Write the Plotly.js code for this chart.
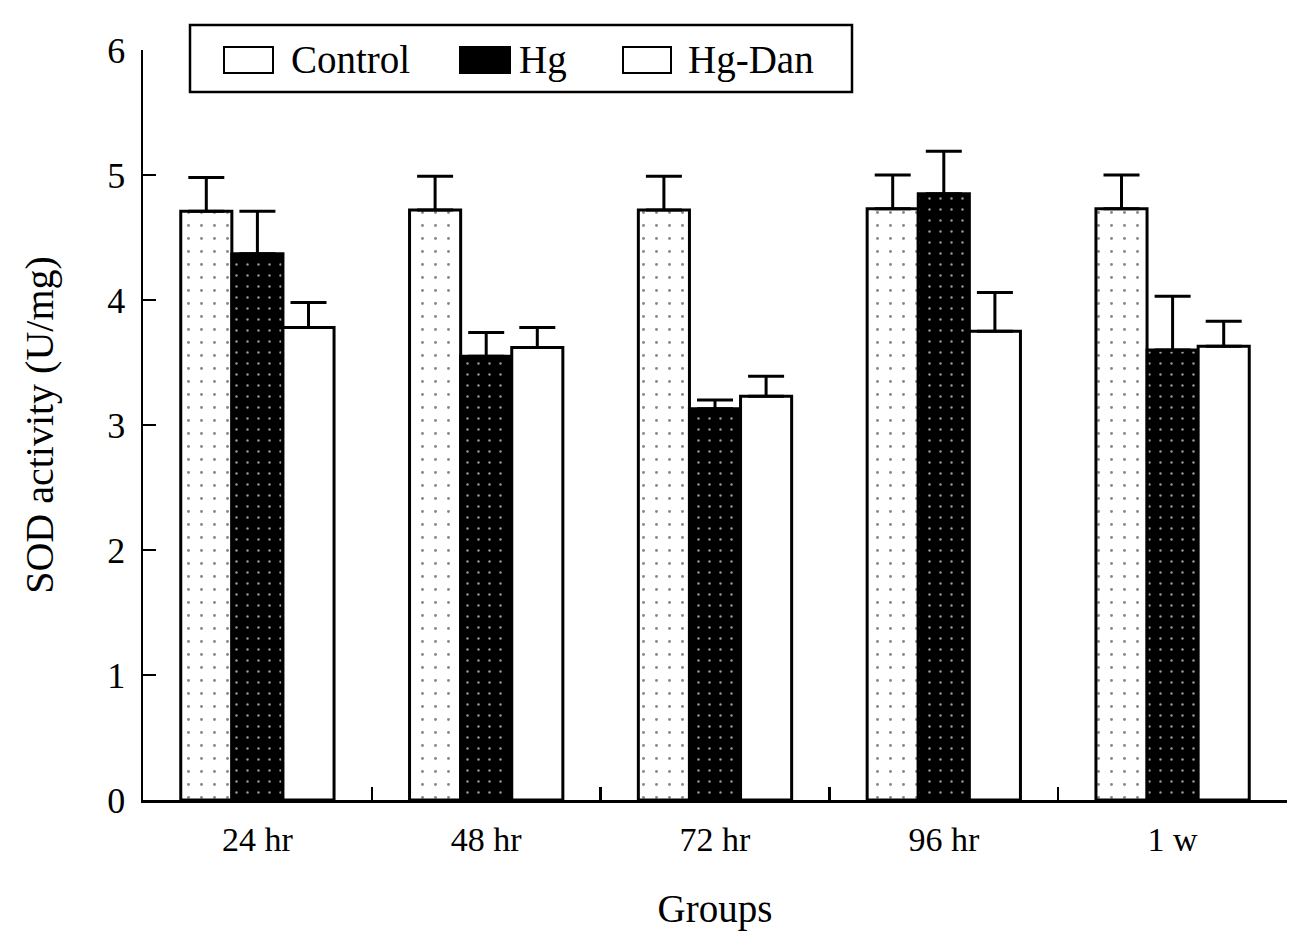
<!DOCTYPE html>
<html>
<head>
<meta charset="utf-8">
<script src="https://cdn.plot.ly/plotly-3.0.1.min.js"></script>
<style>html,body{margin:0;padding:0;background:#fff;}#chart{width:1303px;height:931px;}</style>
</head>
<body>
<div id="chart"></div>
<script>
const groups = ["24 hr", "48 hr", "72 hr", "96 hr", "1 w"];
const seriesNames = ["Control", "Hg", "Hg-Dan"];
const controlVals = [4.71, 4.72, 4.72, 4.73, 4.73];
const controlErr  = [0.27, 0.27, 0.27, 0.27, 0.27];
const hgVals      = [4.37, 3.55, 3.13, 4.85, 3.60];
const hgErr       = [0.34, 0.19, 0.07, 0.34, 0.43];
const hgDanVals   = [3.78, 3.62, 3.23, 3.75, 3.63];
const hgDanErr    = [0.20, 0.16, 0.16, 0.31, 0.20];
const yTicks = [0, 1, 2, 3, 4, 5, 6];

const FONT = "Liberation Serif, Times New Roman, serif";
const zeros = groups.map(() => 0);

function errBar(arr) {
  return {type: "data", symmetric: false, array: arr, arrayminus: zeros,
          color: "#000", thickness: 3, width: 18, visible: true};
}

const traces = [
  {type: "bar", name: seriesNames[0], x: groups, y: controlVals, error_y: errBar(controlErr),
   marker: {color: "#fff", line: {color: "#000", width: 3},
            pattern: {shape: ".", fgcolor: "#888", bgcolor: "#fff", size: 13, solidity: 0.04}}},
  {type: "bar", name: seriesNames[1], x: groups, y: hgVals, error_y: errBar(hgErr),
   marker: {color: "#000", line: {color: "#000", width: 3},
            pattern: {shape: ".", fgcolor: "#999", bgcolor: "#000", size: 11, solidity: 0.04}}},
  {type: "bar", name: seriesNames[2], x: groups, y: hgDanVals, error_y: errBar(hgDanErr),
   marker: {color: "#fff", line: {color: "#000", width: 3}}}
];

// plot area in pixels
const L = 143, R = 16, T = 50, B = 131, W = 1303, H = 931;
const pw = W - L - R, ph = H - T - B;
const px = x => (x - L) / pw;
const py = y => (H - B - y) / ph;

// custom legend (decoration)
const shapes = [
  {type: "rect", xref: "paper", yref: "paper", x0: px(190), x1: px(852), y0: py(92), y1: py(25),
   line: {color: "#000", width: 2.5}, fillcolor: "#fff", layer: "above"},
  {type: "rect", xref: "paper", yref: "paper", x0: px(224), x1: px(273), y0: py(73), y1: py(47),
   line: {color: "#000", width: 2}, fillcolor: "#fff", layer: "above"},
  {type: "rect", xref: "paper", yref: "paper", x0: px(460), x1: px(510), y0: py(73), y1: py(47),
   line: {color: "#000", width: 2}, fillcolor: "#000", layer: "above"},
  {type: "rect", xref: "paper", yref: "paper", x0: px(623), x1: px(671), y0: py(73), y1: py(47),
   line: {color: "#000", width: 2}, fillcolor: "#fff", layer: "above"}
];
const legendTextX = [289, 517, 686];
const annotations = seriesNames.map((n, i) => ({
  xref: "paper", yref: "paper", x: px(legendTextX[i]), y: py(60),
  xanchor: "left", yanchor: "middle", showarrow: false, text: n,
  font: {family: FONT, size: 39, color: "#000"}
}));

const layout = {
  width: W, height: H,
  margin: {l: L, r: R, t: T, b: B},
  paper_bgcolor: "#fff", plot_bgcolor: "#fff",
  barmode: "group", bargap: 0.33, bargroupgap: 0,
  showlegend: false,
  font: {family: FONT, color: "#000"},
  xaxis: {
    type: "category", range: [-0.5, 4.5],
    showline: true, linecolor: "#000", linewidth: 2.5,
    ticks: "inside", tickson: "boundaries", ticklen: 13, tickwidth: 2.5, tickcolor: "#000",
    tickfont: {family: FONT, size: 34, color: "#000"}, ticklabelstandoff: 8,
    showgrid: false, zeroline: false,
    title: {text: "Groups", font: {family: FONT, size: 39, color: "#000"}, standoff: 38}
  },
  yaxis: {
    range: [0, 6], tickvals: yTicks, ticktext: yTicks.map(String),
    showline: true, linecolor: "#000", linewidth: 2.5,
    ticks: "inside", ticklen: 13, tickwidth: 2.5, tickcolor: "#000",
    tickfont: {family: FONT, size: 36, color: "#000"}, ticklabelstandoff: 8,
    showgrid: false, zeroline: false,
    title: {text: "SOD activity (U/mg)", font: {family: FONT, size: 40, color: "#000"}, standoff: 42}
  },
  shapes: shapes,
  annotations: annotations
};

Plotly.newPlot("chart", traces, layout, {displayModeBar: false, staticPlot: true});
</script>
</body>
</html>
